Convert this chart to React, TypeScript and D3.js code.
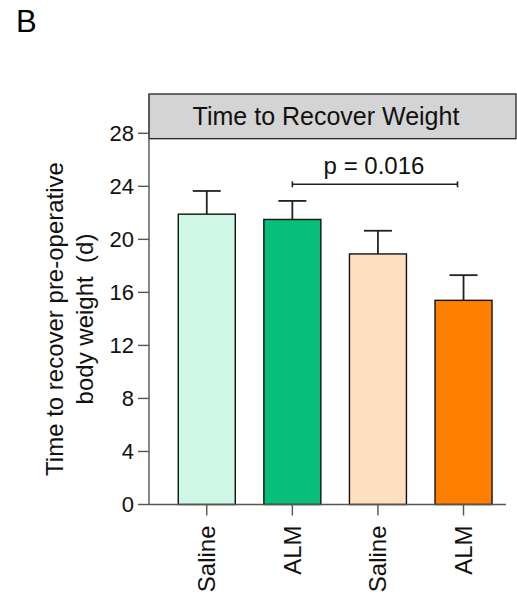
import React from 'react';
import * as d3 from 'd3';

// groups in plot order; labels repeat so keep a separate id
const groupIds = ['sal1', 'alm1', 'sal2', 'alm2'];
const groupLabels = ['Saline', 'ALM', 'Saline', 'ALM'];
const means = [21.9, 21.5, 18.9, 15.4];
const sds = [1.75, 1.4, 1.75, 1.9];
const barColors = ['#cff7e6', '#07bf78', '#fedfc0', '#ff8000'];
const yTicks = [0, 4, 8, 12, 16, 20, 24, 28];

const FONT = 'Arial, "Liberation Sans", Helvetica, sans-serif';
const W = 517;
const H = 603;

const App = () => {
  const x = d3.scaleBand<string>()
    .domain(groupIds)
    .range([149, 521.3])
    .paddingInner(0.334)
    .paddingOuter(0.342);

  const y = d3.scaleLinear()
    .domain([0, 28])
    .range([504.5, 133.3]);

  const bw = x.bandwidth();
  const axisLeft = 149;
  const axisRight = 506;
  const boxTop = 94;
  const boxBottom = 138.7;

  // bracket between ALM groups
  const bx1 = x('alm1')! + bw / 2;
  const bx2 = x('alm2')! + bw / 2 - 6;
  const by = 184.3;

  return (
    <svg width={W} height={H} style={{ position: 'absolute', left: 0, top: 0, display: 'block' }}
      fontFamily={FONT}>
      <rect x={0} y={0} width={W} height={H} fill="#fff" />

      <text x={16} y={32} fontSize={31} fill="#000">B</text>

      {/* header strip */}
      <rect x={axisLeft} y={boxTop} width={W - axisLeft - 1} height={boxBottom - boxTop}
        fill="#d4d4d4" stroke="#222" strokeWidth={1.3} />
      <text x={326} y={124.5} fontSize={25} textAnchor="middle" fill="#111">Time to Recover Weight</text>

      {/* bars */}
      {groupIds.map((g, i) => (
        <g key={g}>
          <line x1={x(g)! + bw / 2} x2={x(g)! + bw / 2} y1={y(means[i])} y2={y(means[i] + sds[i])}
            stroke="#222" strokeWidth={1.8} />
          <line x1={x(g)! + bw / 2 - 14} x2={x(g)! + bw / 2 + 14} y1={y(means[i] + sds[i])} y2={y(means[i] + sds[i])}
            stroke="#222" strokeWidth={1.8} />
          <rect x={x(g)} y={y(means[i])} width={bw} height={y(0) - y(means[i])}
            fill={barColors[i]} stroke="#111" strokeWidth={1.4} />
        </g>
      ))}

      {/* y axis */}
      <line x1={axisLeft} x2={axisLeft} y1={y(0)} y2={boxTop} stroke="#555" strokeWidth={1.4} />
      {yTicks.map(t => (
        <g key={t}>
          <line x1={axisLeft - 11} x2={axisLeft} y1={y(t)} y2={y(t)} stroke="#555" strokeWidth={1.4} />
          <text x={axisLeft - 15} y={y(t)} dy="0.35em" fontSize={22} textAnchor="end" fill="#111">{t}</text>
        </g>
      ))}

      {/* x axis */}
      <line x1={axisLeft} x2={axisRight} y1={y(0)} y2={y(0)} stroke="#555" strokeWidth={1.4} />
      {groupIds.map((g, i) => {
        const cx = x(g)! + bw / 2;
        return (
          <g key={g}>
            <line x1={cx} x2={cx} y1={y(0)} y2={y(0) + 11} stroke="#555" strokeWidth={1.4} />
            <text transform={`translate(${cx},${y(0) + 21}) rotate(-90)`} dy="0.35em" fontSize={24}
              textAnchor="end" fill="#111">{groupLabels[i]}</text>
          </g>
        );
      })}

      {/* y title */}
      <text transform="rotate(-90)" x={-319} y={63.3} fontSize={24} textAnchor="middle" fill="#111">
        Time to recover pre-operative
      </text>
      <text transform="rotate(-90)" x={-319} y={92.5} fontSize={24} textAnchor="middle" fill="#111"
        style={{ whiteSpace: 'pre' }}>
        {'body weight  (d)'}
      </text>

      {/* significance bracket */}
      <line x1={bx1} x2={bx2} y1={by} y2={by} stroke="#222" strokeWidth={1.6} />
      <line x1={bx1} x2={bx1} y1={by - 3} y2={by + 3} stroke="#222" strokeWidth={1.6} />
      <line x1={bx2} x2={bx2} y1={by - 3} y2={by + 3} stroke="#222" strokeWidth={1.6} />
      <text x={374} y={173.5} fontSize={24} textAnchor="middle" fill="#111">p = 0.016</text>
    </svg>
  );
};

export default App;
